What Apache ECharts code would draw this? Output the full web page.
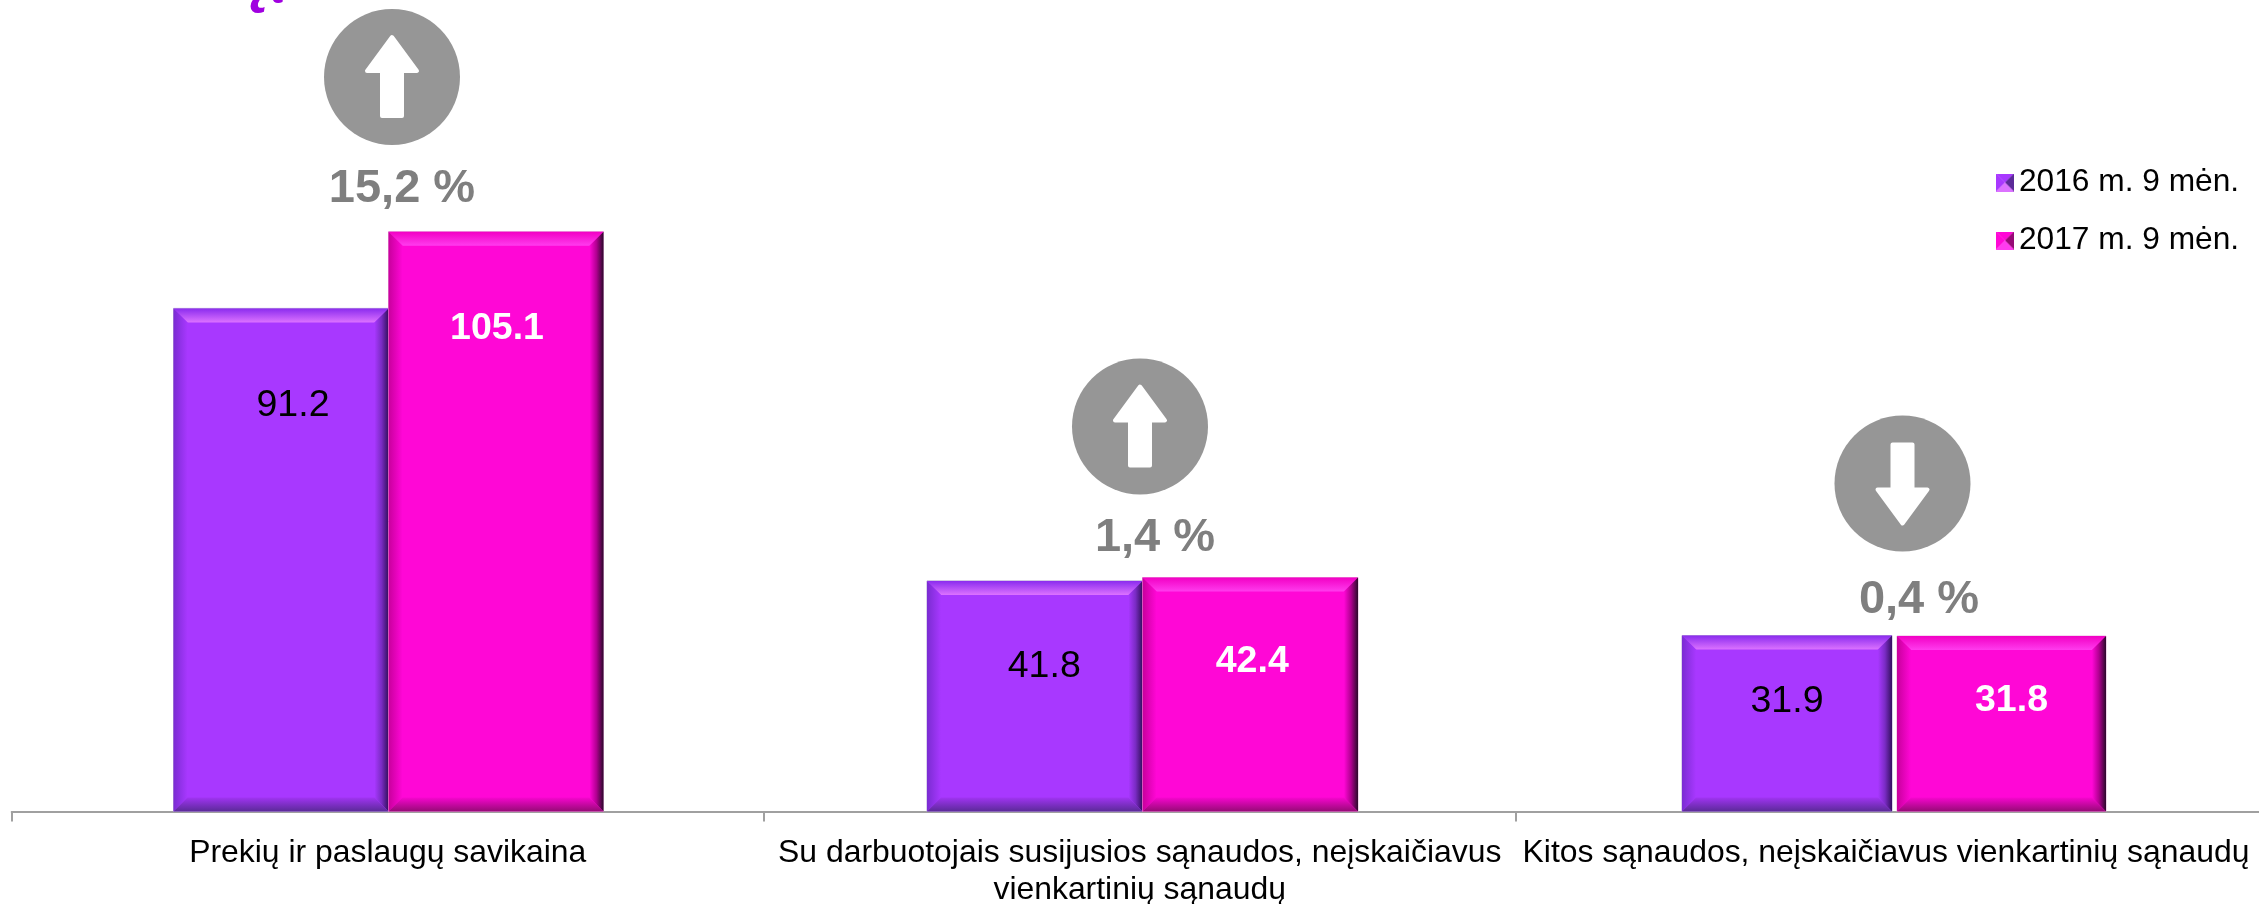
<!DOCTYPE html>
<html>
<head>
<meta charset="utf-8">
<style>html,body{margin:0;padding:0;background:#fff}#c{width:2259px;height:904px}</style>
<script src="https://cdn.jsdelivr.net/npm/echarts@6/dist/echarts.min.js"></script>
</head>
<body>
<div id="c"></div>
<script>
// ---- data ----
const categories = [
  'Prekių ir paslaugų savikaina',
  'Su darbuotojais susijusios sąnaudos, neįskaičiavus\nvienkartinių sąnaudų',
  'Kitos sąnaudos, neįskaičiavus vienkartinių sąnaudų'
];
const seriesNames = ['2016 m. 9 mėn.', '2017 m. 9 mėn.'];
const values2016 = [91.2, 41.8, 31.9];
const values2017 = [105.1, 42.4, 31.8];
const changeLabels = ['15,2 %', '1,4 %', '0,4 %'];
const changeDirections = ['up', 'up', 'down'];

// ---- layout (px) ----
const barEdges = [
  [[-214.2, 0.8], [0.8, 215.8]],
  [[-212.7, 2.8], [2.8, 218.3]],
  [[-209.7, 0.3], [5.3, 214.3]]
];
const labelShift = [
  [[12, 97], [1, 97]],
  [[9.5, 86], [2, 84]],
  [[0, 66], [10, 65]]
];
const badgeCentres = [[392, 77], [1140, 426.5], [1902.5, 483.5]];
const changeLabelCentres = [[402, 189], [1155, 538], [1919, 600]];

const skins = [
  { main: '#A838FF', border: '#b9a6d6', top: ['#8A2BEE', '#DC72FF'], left: ['#7A2CD2', '#A838FF'],
    right: ['#A838FF', '#7a2bc4', '#33105e'], bottom: ['#A034F2', '#5B2A98'], textColor: '#000', bold: false },
  { main: '#FF07D6', border: '#e6a8da', top: ['#F200C4', '#FF3CEE'], left: ['#C8009C', '#FF07D6'],
    right: ['#FF07D6', '#b00090', '#2a0a2a'], bottom: ['#F606CE', '#960A76'], textColor: '#fff', bold: true }
];

function grad(x0, y0, x1, y1, cols) {
  return new echarts.graphic.LinearGradient(x0, y0, x1, y1,
    cols.map((c, i) => ({ offset: i / (cols.length - 1), color: c })));
}

function makeRender(sIdx) {
  const skin = skins[sIdx];
  return function (params, api) {
    const cat = api.value(0);
    const val = api.value(1);
    const centre = api.coord([cat, 0])[0];
    const base = api.coord([cat, 0])[1];
    const top = api.coord([cat, val])[1];
    const [dl, dr] = barEdges[cat][sIdx];
    const l = centre + dl, r = centre + dr;
    const b = 14;
    const poly = (pts, fill) => ({ type: 'polygon', shape: { points: pts }, style: { fill: fill }, silent: true });
    const shift = labelShift[cat][sIdx];
    return {
      type: 'group',
      children: [
        { type: 'rect', shape: { x: l, y: top, width: r - l, height: base - top },
          style: { fill: skin.main, stroke: skin.border, lineWidth: 1 } },
        poly([[l, top], [r, top], [r - b, top + b], [l + b, top + b]], grad(0, 0, 0, 1, skin.top)),
        poly([[l, top], [l + b, top + b], [l + b, base - b], [l, base]], grad(0, 0, 1, 0, skin.left)),
        poly([[r - b, top + b], [r, top], [r, base], [r - b, base - b]], grad(0, 0, 1, 0, skin.right)),
        poly([[l, base], [l + b, base - b], [r - b, base - b], [r, base]], grad(0, 0, 0, 1, skin.bottom)),
        { type: 'text', z2: 10, style: {
            x: (l + r) / 2 + shift[0], y: top + shift[1], text: val.toFixed(1),
            fill: skin.textColor, align: 'center', verticalAlign: 'middle',
            font: (skin.bold ? 'bold ' : '') + '37.5px "Liberation Sans", Arial, sans-serif' } }
      ]
    };
  };
}

function legendIcon(skin) {
  const s = 36, cv = document.createElement('canvas');
  cv.width = cv.height = s;
  const g = cv.getContext('2d');
  const tri = (pts, col) => { g.fillStyle = col; g.beginPath(); pts.forEach((p, i) => i ? g.lineTo(p[0], p[1]) : g.moveTo(p[0], p[1])); g.closePath(); g.fill(); };
  const m = s / 2;
  tri([[0, 0], [s, 0], [m, m]], skin.main);
  tri([[0, 0], [0, s], [m, m]], skin.main);
  tri([[s, 0], [s, s], [m, m]], skin.bottom[1]);
  tri([[0, s], [s, s], [m, m]], skin.top[1]);
  return 'image://' + cv.toDataURL();
}

const chart = echarts.init(document.getElementById('c'), null, { renderer: 'canvas' });

const badges = [];
badgeCentres.forEach((c, i) => {
  const dirn = changeDirections[i] === 'up' ? 1 : -1;
  const pts = [[0, -40], [25, -6], [10, -6], [10, 39], [-10, 39], [-10, -6], [-25, -6]]
    .map(p => [c[0] + p[0], c[1] + p[1] * dirn]);
  badges.push({ type: 'circle', shape: { cx: c[0], cy: c[1], r: 68 }, style: { fill: '#969696' }, silent: true });
  badges.push({ type: 'polygon', shape: { points: pts },
    style: { fill: '#fff', stroke: '#fff', lineWidth: 4, lineJoin: 'round' }, silent: true });
  badges.push({ type: 'text', x: changeLabelCentres[i][0], y: changeLabelCentres[i][1], silent: true,
    style: { text: changeLabels[i], fill: '#7F7F7F', align: 'center', verticalAlign: 'middle',
      font: 'bold 47px "Liberation Sans", Arial, sans-serif' } });
});

chart.setOption({
  animation: false,
  backgroundColor: '#fff',
  grid: { left: 11.7, width: 2256, top: 149.5, height: 662, outerBoundsMode: 'none' },
  tooltip: { show: false },
  legend: {
    orient: 'vertical', left: 1996, top: 165, padding: 0, itemWidth: 18, itemHeight: 18, itemGap: 23,
    selectedMode: false,
    textStyle: { fontFamily: '"Liberation Sans", Arial, sans-serif', fontSize: 31.7, color: '#000', lineHeight: 35 },
    data: seriesNames.map((n, i) => ({ name: n, icon: legendIcon(skins[i]) }))
  },
  xAxis: {
    type: 'category', data: categories, boundaryGap: true,
    axisLine: { show: true, lineStyle: { color: '#a0a0a0', width: 2 } },
    axisTick: { show: true, length: 10, alignWithLabel: false, lineStyle: { color: '#a0a0a0', width: 2 } },
    axisLabel: {
      show: true, interval: 0, margin: 23, color: '#000', hideOverlap: false,
      fontFamily: '"Liberation Sans", Arial, sans-serif', fontSize: 31.9, lineHeight: 37,
      formatter: (v, i) => i === 2 ? '{s|' + v + '}' : v,
      rich: { s: { fontSize: 31.9, lineHeight: 37, color: '#000', padding: [0, 11.5, 0, 0],
        fontFamily: '"Liberation Sans", Arial, sans-serif' } }
    }
  },
  yAxis: { type: 'value', min: 0, max: 120, show: false, splitLine: { show: false } },
  series: [
    { type: 'custom', name: seriesNames[0], itemStyle: { color: skins[0].main }, clip: false,
      encode: { x: 0, y: 1 }, data: values2016.map((v, i) => [i, v]), renderItem: makeRender(0) },
    { type: 'custom', name: seriesNames[1], itemStyle: { color: skins[1].main }, clip: false,
      encode: { x: 0, y: 1 }, data: values2017.map((v, i) => [i, v]), renderItem: makeRender(1) }
  ],
  graphic: { elements: badges.concat([
    { type: 'text', x: 228, y: -62, silent: true,
      style: { text: 'ą', fill: '#A000E0', font: 'bold italic 76px "Liberation Sans", Arial, sans-serif' } },
    { type: 'text', x: 256, y: -52, silent: true,
      style: { text: 'ą', fill: '#A000E0', font: 'bold italic 56px "Liberation Sans", Arial, sans-serif' } }
  ]) }
});
</script>
</body>
</html>
